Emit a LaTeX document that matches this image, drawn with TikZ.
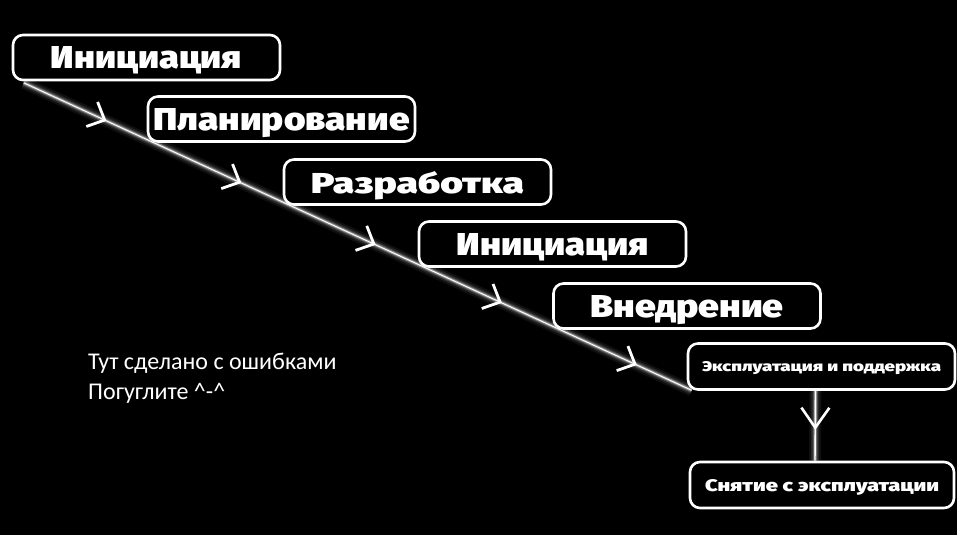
\documentclass[tikz,border=0pt]{standalone}
\usepackage{fontspec}
\newfontfamily\bxf{Fira Sans Black}
\newfontfamily\notef{Carlito}
\usetikzlibrary{arrows.meta,decorations.markings,calc}
\pgfdeclarelayer{bg}
\pgfsetlayers{bg,main}
\newcommand\fitt[3]{\resizebox{#1pt}{#2pt}{\bxf #3}}
\begin{document}
\begin{tikzpicture}[x=1pt,y=-1pt,
  stage/.style={draw=white, line width=2.6pt, rounded corners=10pt, fill=black,
    minimum width=267pt, minimum height=45pt, inner sep=0pt, text=white, text depth=0pt},
]
\begin{pgfonlayer}{bg}
\fill[black] (0,0) rectangle (957,535);
\end{pgfonlayer}
\useasboundingbox (0,0) rectangle (957,535);

\node[stage] (n1) at (146.5,57.5) {\fitt{191}{22}{Инициация}};
\node[stage] (n2) at (281.5,119) {\fitt{256}{22}{Планирование}};
\node[stage] (n3) at (417.5,182) {\fitt{213}{22}{Разработка}};
\node[stage] (n4) at (552.5,244) {\fitt{192}{22}{Инициация}};
\node[stage] (n5) at (687,306) {\fitt{193}{22}{Внедрение}};
\node[stage, minimum height=46pt] (n6) at (821.5,366.5) {\fitt{239}{10}{Эксплуатация и поддержка}};
\node[stage, minimum width=264pt, minimum height=46pt] (n7) at (822,485) {\fitt{234}{12}{Снятие с эксплуатации}};

\coordinate (a) at ($(n1.south west)+(12,1.5)$);
\coordinate (b) at ($(n6.south west)+(5,-0.5)$);
\coordinate (c) at ($(n6.south)+(-6,0)$);
\coordinate (d) at ($(n7.north)+(-7,0)$);

\begin{pgfonlayer}{bg}
\foreach \w/\o in {12/0.06, 8/0.1, 5/0.18, 3/0.35}{
  \draw[white, opacity=\o, line width=\w pt] (a) -- (b);
  \draw[white, opacity=\o, line width=\w pt] (c) -- (d);
}
\draw[white, line width=1pt] (a) -- (b);
\draw[white, line width=1.4pt] (c) -- (d);
\path[decoration={markings,
   mark=at position 0.124 with {\arrow{Straight Barb[length=14pt,width=27pt,line width=2.8pt,white]}},
   mark=at position 0.326 with {\arrow{Straight Barb[length=14pt,width=27pt,line width=2.8pt,white]}},
   mark=at position 0.527 with {\arrow{Straight Barb[length=14pt,width=27pt,line width=2.8pt,white]}},
   mark=at position 0.716 with {\arrow{Straight Barb[length=14pt,width=27pt,line width=2.8pt,white]}},
   mark=at position 0.918 with {\arrow{Straight Barb[length=14pt,width=27pt,line width=2.8pt,white]}}
  }, postaction=decorate] (a) -- (b);
\path[decoration={markings,
   mark=at position 0.56 with {\arrow{Straight Barb[length=20pt,width=28pt,line width=2.6pt,white]}}
  }, postaction=decorate] (c) -- (d);
\end{pgfonlayer}

\node[anchor=north west, align=left, text=white, inner sep=0pt,
      font=\notef\fontsize{24}{30}\selectfont] (note) at (88,353)
  {Тут сделано с ошибками\\Погуглите \^{}-\^{}};
\end{tikzpicture}
\end{document}
